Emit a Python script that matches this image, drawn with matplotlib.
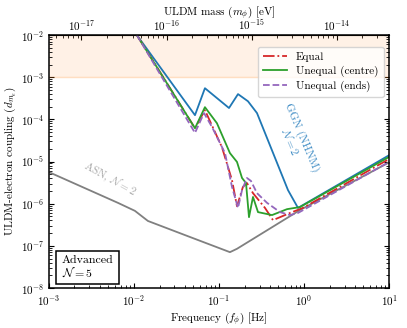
import numpy as np
import matplotlib
matplotlib.use("Agg")
import matplotlib.pyplot as plt

plt.rcParams['font.family'] = 'serif'
plt.rcParams['font.serif'] = ['cmr10']
plt.rcParams['mathtext.fontset'] = 'cm'
plt.rcParams['axes.formatter.use_mathtext'] = True
plt.rcParams['font.size'] = 8

# log10 of frequency [Hz] and log10 of coupling
ggn_lf = [-1.965, -1.282, -1.165, -0.882, -0.776, -0.659, -0.553, -0.188, -0.071, 1.0]
ggn_ly = [-2.0, -3.90, -3.26, -3.73, -3.40, -3.57, -3.85, -5.68, -6.10, -4.85]

equal_lf = [-1.965, -1.282, -1.165, -0.965, -0.847, -0.788, -0.718, -0.671, -0.600,
            -0.459, -0.365, -0.306, -0.165, -0.012, 1.0]
equal_ly = [-2.0, -4.21, -3.78, -4.66, -5.44, -6.06, -5.60, -5.51, -5.75,
            -6.10, -6.39, -6.34, -6.22, -6.10, -4.94]

centre_lf = [-1.965, -1.282, -1.165, -1.024, -0.871, -0.788, -0.729, -0.682, -0.647,
             -0.600, -0.541, -0.376, -0.200, -0.047, 1.0]
centre_ly = [-2.0, -4.21, -3.71, -4.09, -4.80, -5.01, -5.39, -5.51, -6.32,
             -5.84, -6.20, -6.27, -6.13, -6.08, -4.89]

ends_lf = [-1.965, -1.282, -1.176, -1.082, -0.929, -0.847, -0.776, -0.729, -0.671,
           -0.624, -0.553, -0.435, -0.282, -0.165, -0.071, 1.0]
ends_ly = [-2.0, -4.32, -3.85, -4.18, -4.80, -5.60, -6.10, -5.68, -5.39,
           -5.46, -5.75, -5.98, -6.20, -6.27, -6.22, -5.01]

asn_lf = [-3.0, -2.188, -1.988, -1.835, -1.341, -0.871, -0.788, -0.047, 1.0]
asn_ly = [-5.25, -5.98, -6.17, -6.41, -6.79, -7.15, -7.07, -6.15, -5.02]

h_eV = 4.1357e-15  # 2*pi*hbar in eV s


def p(a):
    return 10.0 ** np.array(a)


fig = plt.figure(figsize=(4.07, 3.28), dpi=100)
ax = fig.add_axes([0.120, 0.122, 0.836, 0.771])

ax.axhspan(1e-3, 1e-2, facecolor='C1', alpha=0.1, lw=0)
ax.axhline(1e-3, color='C1', alpha=0.25, lw=1)

ax.plot(p(asn_lf), p(asn_ly), color='gray', lw=1.3)
ax.plot(p(ggn_lf), p(ggn_ly), color='C0', lw=1.3)
ax.plot(p(equal_lf), p(equal_ly), color='C3', lw=1.3, ls='-.', label='Equal')
ax.plot(p(centre_lf), p(centre_ly), color='C2', lw=1.3, ls='-', label='Unequal (centre)')
ax.plot(p(ends_lf), p(ends_ly), color='C4', lw=1.3, ls='--', label='Unequal (ends)')

ax.set_xscale('log')
ax.set_yscale('log')
ax.set_xlim(1e-3, 1e1)
ax.set_ylim(1e-8, 1e-2)
ax.set_xlabel(r'Frequency ($f_\phi$) [Hz]', labelpad=2)
ax.set_ylabel(r'ULDM-electron coupling ($d_{m_e}$)', labelpad=2)
ax.tick_params(which='both', direction='in', right=True)
for s in ax.spines.values():
    s.set_linewidth(1.1)

sec = ax.secondary_xaxis('top', functions=(lambda f: f * h_eV, lambda m: m / h_eV))
sec.set_xlabel(r'ULDM mass ($m_\phi$) [eV]', labelpad=2)
sec.tick_params(which='both', direction='in', pad=1.5)

ax.legend(loc='upper right', bbox_to_anchor=(1.0, 0.975), fontsize=8, framealpha=0.8,
          handlelength=2.2, borderpad=0.45, labelspacing=0.35)

ax.text(0.0052, 3.9e-6, r'ASN, $\mathcal{N}=2$', color='#a8a8a8', rotation=-29,
        ha='center', va='center', fontsize=8)
ax.text(0.80, 3.3e-5, 'GGN (NHNM)\n' + r'$\mathcal{N}=2$', color='#3d8bc4', rotation=-67,
        ha='center', va='center', fontsize=8, linespacing=1.0)
ax.text(0.00142, 1.65e-8, 'Advanced\n' + r'$\mathcal{N}=5$', fontsize=8.6, ha='left', va='bottom',
        linespacing=1.0,
        bbox=dict(boxstyle='square,pad=0.45', facecolor='white', edgecolor='black', lw=1.1))

fig.savefig('out.png', dpi=100)
